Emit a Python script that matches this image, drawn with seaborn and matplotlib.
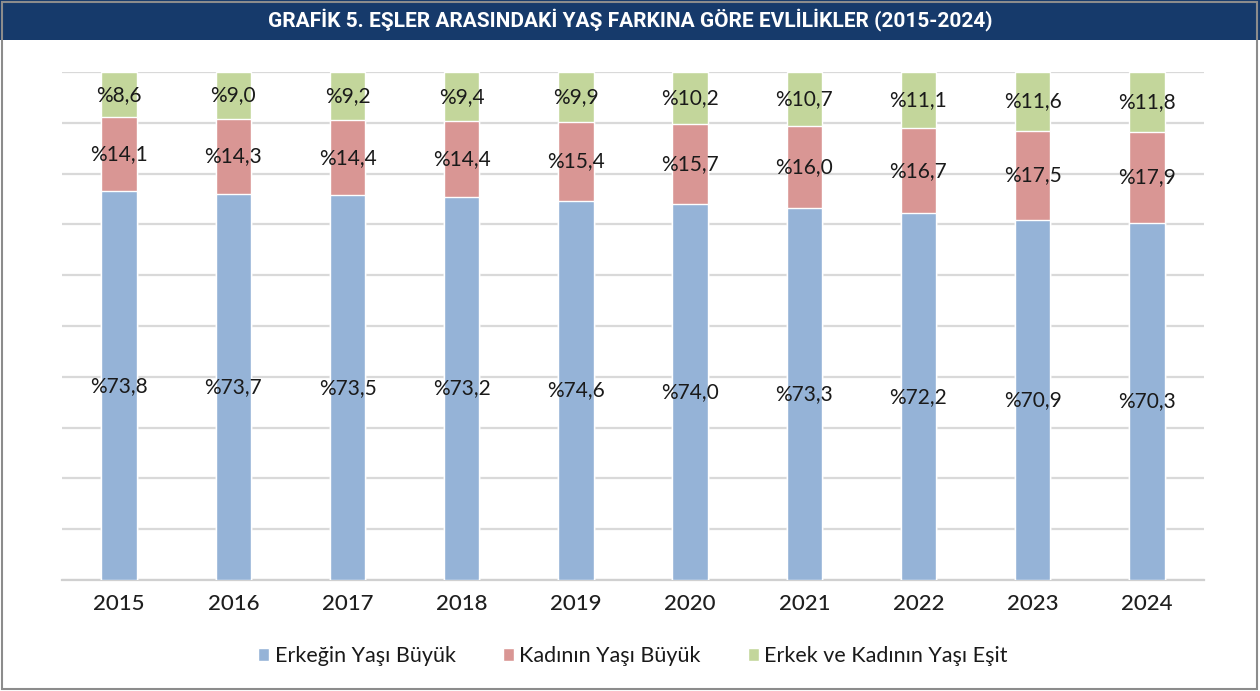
import matplotlib
matplotlib.use("Agg")
import matplotlib.pyplot as plt
from matplotlib.patches import Rectangle
import numpy as np
import pandas as pd
import seaborn as sns

years = ["2015", "2016", "2017", "2018", "2019", "2020", "2021", "2022", "2023", "2024"]
erkek_buyuk = [73.8, 73.7, 73.5, 73.2, 74.6, 74.0, 73.3, 72.2, 70.9, 70.3]
kadin_buyuk = [14.1, 14.3, 14.4, 14.4, 15.4, 15.7, 16.0, 16.7, 17.5, 17.9]
esit = [8.6, 9.0, 9.2, 9.4, 9.9, 10.2, 10.7, 11.1, 11.6, 11.8]
series_names = ["Erkeğin Yaşı Büyük", "Kadının Yaşı Büyük", "Erkek ve Kadının Yaşı Eşit"]
colors = ["#95b3d7", "#d99694", "#c3d69b"]
title = "GRAFİK 5. EŞLER ARASINDAKİ YAŞ FARKINA GÖRE EVLİLİKLER (2015-2024)"

sns.set_theme(style="white")
plt.rcParams["font.family"] = ["Lato", "DejaVu Sans"]

vals = np.array([erkek_buyuk, kadin_buyuk, esit])
shares = vals / vals.sum(axis=0) * 100
cum = np.cumsum(shares, axis=0)

df = pd.DataFrame({"year": years,
                   "c0": cum[0], "c1": cum[1], "c2": cum[2]})

fig = plt.figure(figsize=(12.6, 6.91), dpi=100)
ax = fig.add_axes([62/1260, 1-580/691, (1204-62)/1260, (580-72)/691])

# draw stacked bars from top down (overlay cumulative totals)
for i in [2, 1, 0]:
    sns.barplot(data=df, x="year", y=f"c{i}", color=colors[i], width=0.31,
                saturation=1, ax=ax, label=series_names[i], zorder=3)

# data labels centred in each segment
for i in range(3):
    bottoms = cum[i] - shares[i]
    for j in range(len(years)):
        y = bottoms[j] + shares[i][j] / 2
        ax.text(j, y, "%" + f"{vals[i][j]:.1f}".replace(".", ","), ha="center",
                va="center", fontsize=15, color="#1a1a1a", zorder=5)

ax.set_ylim(0, 100)
ax.set_xlim(-0.5, len(years) - 0.5)
ax.set_yticks(np.arange(0, 101, 10))
ax.set_yticklabels([])
ax.tick_params(axis="y", length=0)
ax.tick_params(axis="x", length=0, labelsize=16, colors="#1f1f1f", pad=10)
for t in ax.get_xticklabels():
    t.set_fontweight("medium")
ax.set_xlabel("")
ax.set_ylabel("")
ax.yaxis.grid(True, color="#d9d9d9", linewidth=1.6, zorder=0)
ax.set_axisbelow(True)
for s in ["top", "left", "right"]:
    ax.spines[s].set_visible(False)
ax.spines["bottom"].set_color("#d0d0d0")
ax.spines["bottom"].set_linewidth(1.6)

# legend in original order
handles, labels = ax.get_legend_handles_labels()
order = [labels.index(n) for n in series_names]
leg = ax.legend([handles[k] for k in order], [labels[k] for k in order],
                loc="center", bbox_to_anchor=(0.5, -0.15), ncol=3, frameon=False,
                fontsize=15.5, handlelength=0.5, handleheight=0.5, handletextpad=0.25,
                columnspacing=2.2)
for t in leg.get_texts():
    t.set_color("#1a1a1a")

# title bar and outer frame
fig.patches.append(Rectangle((0, 1-40/691), 1, 40/691, transform=fig.transFigure,
                             facecolor="#163a6b", edgecolor="none", zorder=0))
fig.patches.append(Rectangle((2/1260, 2/691), 1-5/1260, 1-4/691, transform=fig.transFigure,
                             facecolor="none", edgecolor="#8c8c8c", linewidth=1.5, zorder=1))
fig.text(0.5, 1-20/691, title, ha="center", va="center", color="white",
         fontsize=15, fontweight="bold", family=["Roboto", "DejaVu Sans"])

fig.savefig("out.png", dpi=100)
